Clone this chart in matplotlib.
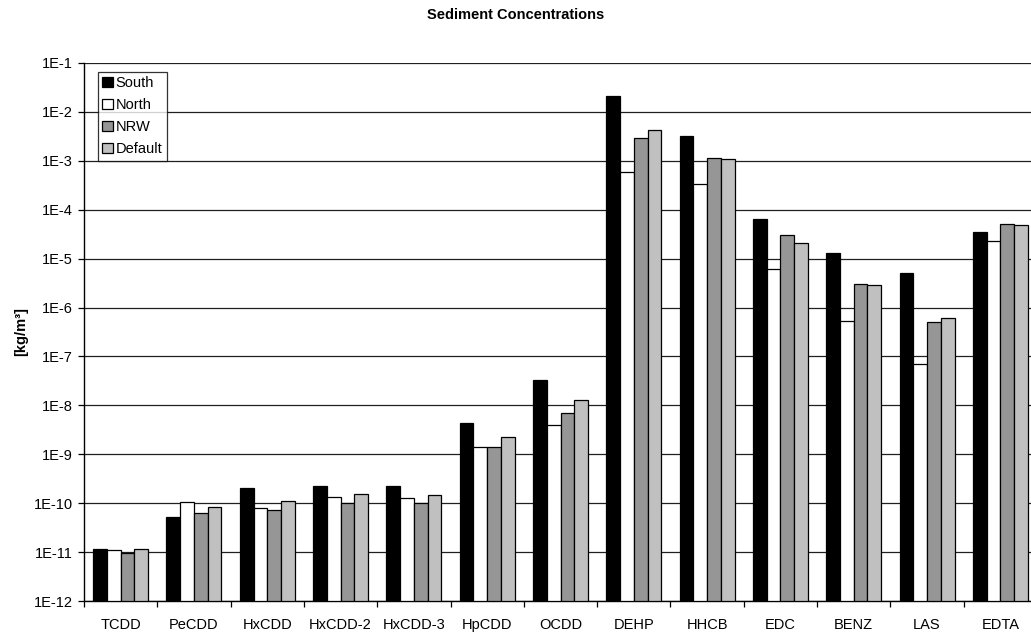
import numpy as np
import matplotlib.pyplot as plt
from matplotlib.ticker import FixedLocator, FixedFormatter, NullLocator

plt.rcParams['font.family'] = ['Liberation Sans', 'DejaVu Sans']

substances = ['TCDD', 'PeCDD', 'HxCDD', 'HxCDD-2', 'HxCDD-3', 'HpCDD', 'OCDD',
              'DEHP', 'HHCB', 'EDC', 'BENZ', 'LAS', 'EDTA']

# sediment concentrations in kg/m3 per region
south = [1.07e-11, 5.1e-11, 2.0e-10, 2.2e-10, 2.19e-10, 4.4e-9, 3.25e-8,
         2.1e-2, 3.2e-3, 6.35e-5, 1.32e-5, 5.0e-6, 3.44e-5]
north = [1.0e-11, 1.03e-10, 7.7e-11, 1.32e-10, 1.24e-10, 1.43e-9, 3.9e-9,
         5.9e-4, 3.4e-4, 6.0e-6, 5.4e-7, 6.9e-8, 2.26e-5]
nrw = [8.4e-12, 6.3e-11, 7.0e-11, 1.02e-10, 9.8e-11, 1.41e-9, 6.97e-9,
       2.95e-3, 1.12e-3, 3.04e-5, 3.0e-6, 5.0e-7, 5.2e-5]
default = [1.07e-11, 8.4e-11, 1.08e-10, 1.5e-10, 1.44e-10, 2.29e-9, 1.26e-8,
           4.3e-3, 1.1e-3, 2.12e-5, 2.86e-6, 6.0e-7, 4.9e-5]

series = [('South', south, '#000000'),
          ('North', north, '#ffffff'),
          ('NRW', nrw, '#969696'),
          ('Default', default, '#c0c0c0')]

decades = list(range(-12, 0))
fs = 10.5

fig = plt.figure(figsize=(10.31, 6.35), dpi=100)
ax = fig.add_axes([84 / 1031, 1 - 601 / 635, 953 / 1031, 538 / 635])

x = np.arange(len(substances))
width = 0.1875
for i, (name, vals, col) in enumerate(series):
    ax.bar(x + (i - 1.5) * width, vals, width, bottom=1e-12, color=col,
           edgecolor='black', linewidth=0.9, label=name, zorder=3)

ax.set_yscale('log')
ax.set_ylim(1e-12, 1e-1)
ax.set_xlim(-0.5, len(substances) - 0.5)

ax.yaxis.set_major_locator(FixedLocator([10.0 ** d for d in decades]))
ax.yaxis.set_major_formatter(FixedFormatter(['1E%d' % d for d in decades]))
ax.yaxis.set_minor_locator(NullLocator())
ax.grid(axis='y', color='#202020', linewidth=0.9, zorder=0)

ax.set_xticks(np.arange(len(substances) + 1) - 0.5)
ax.set_xticklabels([])
ax.set_xticks(x, substances, minor=True)
ax.tick_params(axis='x', which='minor', length=0, labelsize=fs, pad=12)
ax.tick_params(axis='x', which='major', direction='out', length=4, width=0.9)
ax.tick_params(axis='y', direction='out', length=4, width=0.9, labelsize=fs, pad=4)

for side in ['top', 'right']:
    ax.spines[side].set_visible(False)
ax.spines['left'].set_linewidth(1.0)
ax.spines['bottom'].set_linewidth(1.0)

ax.set_ylabel('[kg/m³]', fontsize=fs, fontweight='bold', labelpad=4)
fig.text(0.5, 1 - 15 / 635, 'Sediment Concentrations', ha='center', va='center',
         fontsize=fs, fontweight='bold')

leg = ax.legend(loc='upper left', bbox_to_anchor=(14 / 953, 1 - 9 / 538),
                fontsize=fs, frameon=True, fancybox=False, borderpad=0.3,
                handlelength=0.7, handleheight=0.7, handletextpad=0.2,
                labelspacing=0.55, borderaxespad=0)
leg.get_frame().set_edgecolor('black')
leg.get_frame().set_linewidth(0.9)
leg.set_zorder(5)

fig.savefig('out.png', dpi=100)
